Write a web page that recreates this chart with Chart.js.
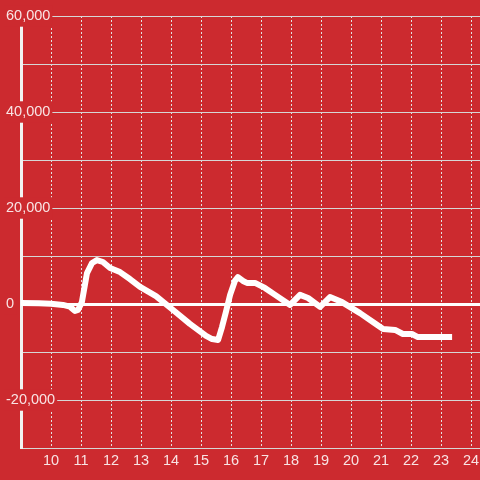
<!DOCTYPE html>
<html lang="en">
<head>
  <meta charset="utf-8">
  <title>Line chart</title>
  <style>
    * { margin: 0; padding: 0; }
    body { background: #cc2a2f; }
    #chart { display: block; }
  </style>
</head>
<body>
  <canvas id="chart" width="480" height="480"></canvas>

  <script src="https://cdn.jsdelivr.net/npm/chart.js@4.4.1/dist/chart.umd.min.js"></script>
  <script>
    // series values
    const xValues = [9, 9.6, 10, 10.4, 10.63, 10.8, 10.9, 11.03, 11.2, 11.37, 11.53, 11.73, 11.97,
      12.3, 12.63, 12.97, 13.5, 14.07, 14.63, 15.17, 15.37, 15.57, 15.7, 15.83, 15.97, 16.13,
      16.23, 16.4, 16.53, 16.8, 17.13, 17.47, 17.97, 18.3, 18.57, 18.97, 19.3, 19.7, 20.3,
      20.73, 21.07, 21.47, 21.73, 22.03, 22.23, 23.37];
    const yValues = [200, 150, 50, -200, -550, -1450, -1250, 400, 6450, 8550, 9150, 8750, 7500,
      6650, 5200, 3550, 1650, -1250, -4150, -6650, -7300, -7500, -4800, -1650, 1900, 4800,
      5600, 4800, 4400, 4400, 3350, 1900, -200, 1900, 1250, -600, 1450, 400, -1900,
      -3750, -5200, -5400, -6250, -6250, -6900, -6900];

    // tick labels
    const xTicks = [10, 11, 12, 13, 14, 15, 16, 17, 18, 19, 20, 21, 22, 23, 24];
    const yTicks = [-30000, -20000, -10000, 0, 10000, 20000, 30000, 40000, 50000, 60000];
    const yLabelled = [-20000, 0, 20000, 40000, 60000];

    const labelColor = 'rgba(255,255,255,0.87)';
    const isLabelled = v => yLabelled.includes(v);

    const ctx = document.getElementById('chart').getContext('2d');
    new Chart(ctx, {
      type: 'line',
      data: {
        datasets: [{
          data: xValues.map((x, i) => ({ x: x, y: yValues[i] })),
          borderColor: '#ffffff',
          borderWidth: 6,
          borderJoinStyle: 'round',
          pointRadius: 0,
          tension: 0,
          fill: false
        }]
      },
      options: {
        responsive: false,
        animation: false,
        layout: { padding: { top: 16, left: 21, right: 0, bottom: 6 } },
        plugins: { legend: { display: false }, tooltip: { enabled: false } },
        scales: {
          x: {
            type: 'linear',
            min: 9,
            max: 24.3,
            afterBuildTicks: s => { s.ticks = xTicks.map(v => ({ value: v })); },
            grid: { color: '#e2e2e2', lineWidth: 1, drawTicks: false },
            border: { display: true, color: '#d6d6d6', width: 1, dash: [2, 2] },
            ticks: {
              color: labelColor,
              padding: 0,
              maxRotation: 0,
              autoSkip: false,
              font: { family: 'Liberation Sans, Arial, sans-serif', size: 14.5, lineHeight: 26 / 14.5 },
              callback: v => String(v)
            }
          },
          y: {
            min: -30000,
            max: 60000,
            afterBuildTicks: s => { s.ticks = yTicks.map(v => ({ value: v })); },
            // labels sit over the axis line, so the axis itself takes no room
            afterFit: s => { s.width = 0; },
            grid: {
              drawTicks: false,
              color: c => c.tick && c.tick.value === 0 ? '#ffffff' : '#d6d6d6',
              lineWidth: c => c.tick && c.tick.value === 0 ? 3 : 1
            },
            border: { display: true, color: '#f2f2f2', width: 3 },
            ticks: {
              mirror: true,
              crossAlign: 'near',
              padding: -15,
              color: labelColor,
              autoSkip: false,
              font: { family: 'Liberation Sans, Arial, sans-serif', size: 14.5 },
              showLabelBackdrop: c => !!(c.tick && isLabelled(c.tick.value)),
              backdropColor: '#cc2a2f',
              backdropPadding: 2,
              callback: v => isLabelled(v) ? v.toLocaleString('en-US') : ''
            }
          }
        }
      }
    });
  </script>
</body>
</html>
